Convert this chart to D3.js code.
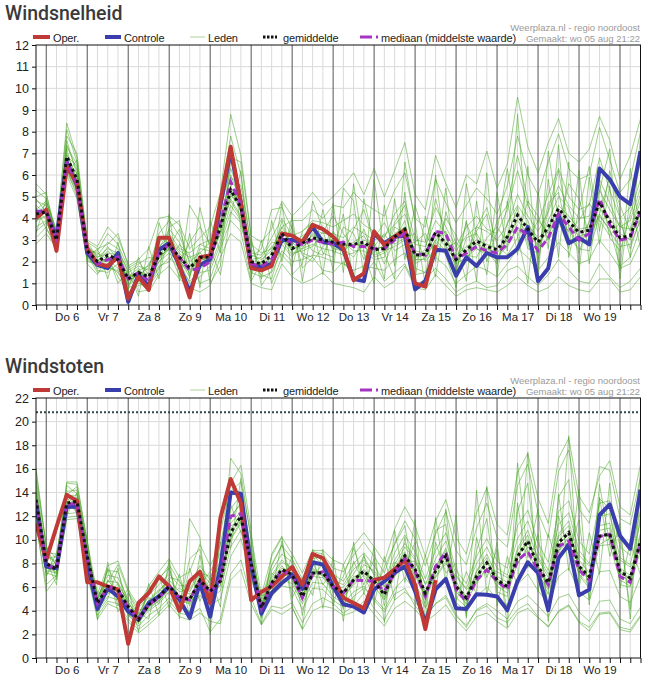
<!DOCTYPE html>
<html><head><meta charset="utf-8">
<script src="https://cdn.jsdelivr.net/npm/d3@7"></script>
<style>
body{margin:0;background:#fff}
svg{display:block}
text{font-family:"Liberation Sans",Arial,sans-serif}
</style>
</head><body>
<svg id="c" width="648" height="681"></svg>
<script>
// ---------- categories / ticks ----------
const dayLabels = ["Do 6","Vr 7","Za 8","Zo 9","Ma 10","Di 11","Wo 12","Do 13","Vr 14","Za 15","Zo 16","Ma 17","Di 18","Wo 19"];
const yTicksSnelheid = [0,1,2,3,4,5,6,7,8,9,10,11,12];
const yTicksStoten = [0,2,4,6,8,10,12,14,16,18,20,22];
const drempelStoten = 20.8;

// ---------- Windsnelheid (m/s), 6-hourly from wo 5 18:00 ----------
const operSnelheid = [4.0,4.4,2.5,6.4,5.6,2.6,1.9,1.8,2.2,0.3,
  1.3,0.7,3.1,3.1,1.8,0.35,2.2,2.3,4.8,7.3,
  4.7,1.7,1.6,1.8,3.3,3.2,2.9,3.7,3.5,3.15,
  2.6,1.15,1.46,3.4,2.77,3.15,3.46,1.0,0.85,2.77];
const controleSnelheid = [4.3,4.3,3.1,6.6,5.5,2.4,1.85,1.7,2.4,0.15,
  1.4,0.85,2.55,2.85,1.8,0.6,1.85,2.1,4.6,7.1,
  4.7,1.77,1.75,1.9,3.0,3.0,2.9,3.6,2.9,2.85,
  2.55,1.2,1.1,3.3,2.85,3.15,3.2,0.72,1.1,2.55,
  2.5,1.35,2.2,1.8,2.4,2.2,2.2,2.6,3.6,1.1,
  1.7,4.15,2.85,3.1,2.8,6.3,5.8,5.0,4.66,7.1];
const gemiddeldeSnelheid = [4.2,4.3,3.0,6.85,5.8,2.5,2.0,2.3,2.1,1.2,
  1.5,1.3,2.3,2.8,2.2,1.7,2.2,2.2,3.6,5.3,
  4.5,2.0,1.9,2.3,3.3,2.6,2.85,3.1,3.0,2.9,
  2.8,2.8,2.9,2.55,2.6,3.15,3.5,2.3,2.35,3.35,
  2.85,2.1,2.55,2.95,2.7,2.55,3.15,4.15,3.5,2.9,
  3.6,4.45,3.85,3.35,3.45,4.75,3.85,3.1,3.2,4.45];
const mediaanSnelheid = [4.3,4.3,3.1,6.6,5.6,2.5,1.9,2.1,2.2,1.2,
  1.5,1.1,2.4,2.8,2.2,1.6,1.7,2.0,3.8,5.7,
  4.6,1.9,1.8,2.1,3.2,2.8,2.8,3.0,2.9,2.8,
  2.9,2.7,2.7,2.6,2.6,3.0,3.3,2.4,2.3,3.4,
  3.3,2.1,2.4,2.7,2.5,2.4,2.8,3.6,3.2,2.5,
  3.1,4.2,3.6,3.0,3.3,4.9,3.7,3.0,3.1,4.3];
const ledenSnelheid = [
 [4.8,4.6,3.2,7.4,6.2,2.7,2.3,2.9,2.6,1.5, 1.8,1.6,2.9,3.3,2.6,2.4,2.8,2.6,4.4,6.3, 5.1,2.4,2.3,3.1,4.0,3.2,3.4,3.9,3.8,3.6, 3.9,4.2,3.7,3.4,3.1,4.2,4.8,3.0,2.9,4.5, 3.6,2.7,3.6,4.1,3.5,3.3,4.4,6.2,4.6,3.8, 5.1,6.3,5.0,4.4,4.6,6.8,5.3,4.0,4.5,6.6],
 [3.6,3.9,2.7,6.2,5.3,2.2,1.7,1.8,1.5,0.8, 1.0,0.9,1.7,2.2,1.7,1.1,1.5,1.6,2.8,4.3, 3.8,1.5,1.3,1.5,2.5,2.0,2.1,2.3,2.2,2.0, 1.9,1.6,1.8,1.7,1.6,2.1,2.4,1.4,1.5,2.2, 1.8,1.0,1.4,1.8,1.6,1.3,1.9,2.6,2.2,1.6, 2.2,2.9,2.4,1.9,2.1,3.0,2.4,1.7,1.9,2.9],
 [4.4,4.8,3.4,8.1,6.6,2.9,2.2,2.6,2.4,1.4, 1.2,1.9,2.6,3.5,2.9,1.4,2.8,3.0,4.8,7.8, 6.0,2.6,1.8,2.1,3.9,2.4,2.5,2.7,3.4,4.1, 3.3,2.6,3.5,2.2,2.4,3.8,4.6,2.0,2.6,4.9, 3.1,1.9,3.8,2.6,2.3,3.9,4.6,6.9,4.9,2.1, 4.4,6.2,3.6,2.4,3.9,5.6,3.1,2.5,4.2,5.8],
 [3.1,3.6,2.5,6.0,4.9,2.0,1.9,2.2,1.3,0.6, 0.9,1.0,1.8,2.0,2.8,2.3,1.0,1.2,2.6,3.9, 3.4,1.1,2.0,2.7,2.3,1.8,3.4,3.8,2.4,2.2, 3.6,3.3,2.1,3.1,3.8,2.8,3.1,3.3,2.0,2.6, 4.0,3.2,2.2,3.6,4.5,2.8,2.3,3.1,4.8,4.1, 3.0,3.6,5.6,4.9,3.2,4.2,5.9,4.6,3.4,4.8],
 [5.3,4.9,2.8,7.2,5.5,2.4,2.5,3.3,2.8,1.7, 2.0,1.4,2.2,2.6,1.9,2.9,3.6,2.8,3.2,5.0, 4.9,2.2,2.6,4.4,4.5,3.5,2.3,2.0,2.7,3.1, 2.4,3.5,4.4,2.9,1.9,3.0,3.9,1.7,1.5,2.9, 2.3,1.4,2.0,3.4,4.2,2.0,3.2,4.5,2.6,2.4, 4.7,5.2,3.1,2.6,2.5,4.1,3.5,1.8,2.2,3.6],
 [3.9,4.1,2.9,6.5,5.9,2.6,1.6,1.5,1.9,0.9, 1.6,1.2,2.0,2.4,2.0,1.0,1.3,1.8,3.0,4.6, 3.9,1.9,1.4,1.2,2.9,2.9,2.4,2.2,1.6,1.5, 2.0,1.3,1.4,2.0,1.1,1.5,1.9,0.9,1.2,1.7, 1.2,0.6,0.9,1.1,0.8,0.9,1.6,1.8,1.3,0.9, 1.4,2.1,1.6,1.1,1.0,1.9,1.3,0.8,1.1,1.7],
 [4.6,4.2,3.1,6.9,6.4,2.8,2.1,2.0,2.2,1.1, 1.4,1.7,3.3,3.9,3.2,2.0,2.4,2.9,4.1,5.9, 5.5,2.8,2.4,2.6,3.6,3.9,3.9,4.4,4.0,4.6, 4.5,5.2,4.7,4.4,4.1,5.3,6.1,4.0,3.6,5.8, 4.7,3.8,4.6,5.4,4.9,4.2,5.5,7.8,6.0,5.1, 6.6,7.9,6.3,5.8,6.0,8.2,6.7,5.2,5.8,8.0],
 [4.0,4.4,3.3,6.7,5.6,2.3,2.0,2.5,2.0,1.3, 1.7,1.1,2.5,3.0,2.4,1.8,2.0,2.3,3.4,5.5, 4.3,1.8,1.9,2.0,3.1,2.5,2.9,3.2,3.1,2.6, 2.5,2.9,3.2,2.4,2.8,3.3,3.6,2.5,2.4,3.4, 2.9,2.3,2.7,3.0,2.8,2.6,3.1,4.0,3.7,3.1, 3.5,4.6,4.1,3.5,3.6,4.8,4.0,3.3,3.0,4.4],
 [2.8,3.3,2.6,7.8,7.0,3.0,2.7,3.6,3.1,1.9, 0.6,0.7,3.8,2.5,1.3,4.6,3.8,1.0,1.8,6.8, 6.6,3.1,0.9,1.6,4.7,1.4,1.9,4.8,3.5,1.6, 5.4,4.8,1.3,5.8,2.4,1.2,6.6,3.8,0.9,6.0, 2.3,0.8,5.6,3.2,1.4,5.2,2.5,8.8,2.9,1.2, 7.1,3.9,2.6,6.2,1.9,5.3,7.2,1.6,6.3,3.4],
 [4.3,4.0,2.4,6.3,5.0,2.1,1.8,1.9,2.5,1.6, 1.9,2.2,2.1,2.7,3.5,1.9,1.7,2.0,3.9,4.8, 4.0,2.1,2.2,2.9,2.8,2.2,3.1,2.5,2.3,3.4, 2.6,2.2,3.0,2.7,3.3,2.5,2.8,2.9,3.3,2.4, 2.6,2.9,2.3,2.2,3.1,3.6,2.9,3.5,3.0,3.9, 3.3,4.0,3.4,3.9,4.7,3.9,3.2,3.8,2.6,4.0],
 [5.0,5.2,3.0,7.0,5.8,2.5,2.4,2.1,1.7,0.9, 1.3,1.5,2.4,2.9,2.1,1.3,2.6,2.5,3.7,5.2, 4.7,1.7,1.6,2.4,3.4,2.7,2.6,3.3,2.9,2.7, 2.9,2.5,2.5,2.1,2.2,3.6,3.3,1.9,2.2,3.0, 3.4,1.6,3.1,3.3,2.5,1.9,3.8,4.6,3.9,2.6, 3.9,5.0,4.5,3.0,3.8,5.3,4.4,3.6,3.5,5.1],
 [3.4,3.8,2.9,6.4,6.1,2.6,2.2,2.4,2.3,1.0, 1.5,1.3,2.2,2.6,2.3,1.6,2.1,2.1,3.5,5.1, 4.4,2.0,1.7,2.2,3.2,2.6,2.7,3.0,3.0,3.0, 2.7,2.8,2.8,2.6,2.7,3.0,3.4,2.2,2.3,3.2, 2.7,2.0,2.5,2.8,2.6,2.4,3.0,3.9,3.3,2.8, 3.4,4.2,3.7,3.2,3.3,4.5,3.7,3.0,3.1,4.3],
 [5.6,5.1,3.3,8.4,6.8,2.9,2.6,2.8,3.3,1.8, 2.1,2.6,4.0,4.1,3.7,2.6,3.1,3.6,5.2,8.8, 6.9,3.2,2.9,3.5,4.8,4.1,4.6,5.2,4.6,5.0, 5.5,6.1,5.1,6.3,5.0,6.2,7.5,5.1,4.4,6.9, 5.6,4.5,6.0,5.6,7.1,5.4,6.5,9.6,7.3,6.1, 7.5,8.6,7.0,6.6,7.2,8.7,7.6,5.8,6.9,8.6],
 [3.8,4.5,2.6,6.1,5.2,2.3,1.5,1.7,1.6,0.5, 1.1,0.6,1.4,1.8,1.2,0.8,0.6,0.9,2.2,3.3, 2.9,1.0,0.8,0.7,1.9,1.3,1.0,1.2,1.5,1.0, 0.9,0.8,0.6,1.3,0.8,1.1,1.8,0.8,0.7,1.4, 0.9,0.4,0.7,0.8,0.7,0.6,0.9,1.3,0.9,0.6, 0.8,1.3,0.9,0.7,0.6,1.2,1.2,0.6,0.7,1.3],
 [4.9,4.3,3.1,7.6,6.0,2.7,2.0,2.7,2.1,1.2, 1.6,1.8,2.7,3.1,2.5,2.2,2.4,2.0,3.8,6.0, 4.8,2.3,2.1,2.5,3.6,2.8,3.2,3.5,3.3,3.3, 3.1,3.6,3.3,3.0,3.2,3.7,4.2,2.8,2.7,3.9, 3.3,2.5,3.2,3.6,3.4,3.0,3.7,5.1,4.1,3.4, 4.3,5.5,4.6,4.0,4.1,5.8,4.7,3.6,3.9,5.4],
 [4.1,4.7,3.5,6.6,5.4,2.4,1.8,2.2,2.1,1.4, 1.3,1.0,2.0,2.6,2.0,1.5,1.9,2.1,3.3,4.9, 4.1,1.8,2.0,1.9,3.0,2.3,2.6,2.8,2.6,2.5, 2.3,2.4,2.7,2.3,2.5,2.7,3.0,2.1,2.1,3.0, 2.5,1.9,2.2,2.6,2.4,2.2,2.7,3.6,3.1,2.5, 3.1,3.9,3.4,2.9,3.0,4.2,3.4,2.7,2.8,3.9],
 [4.5,3.5,2.9,7.3,6.5,2.2,2.6,1.2,2.9,0.7, 2.2,0.9,1.5,4.2,1.1,3.3,0.8,3.9,2.4,7.1, 3.5,3.0,1.2,3.9,2.0,4.1,1.1,3.7,1.4,4.7, 1.5,5.6,2.4,1.0,4.6,1.8,5.2,1.2,4.1,2.0, 5.4,1.5,3.9,1.1,6.1,1.3,4.8,2.3,6.4,1.7, 5.8,2.2,6.6,1.5,5.9,2.8,5.5,1.2,5.0,2.6],
 [3.3,4.9,3.2,6.0,6.7,1.9,1.4,2.3,1.0,1.6, 0.4,2.7,1.2,3.6,3.9,1.2,4.5,2.6,1.4,4.1, 6.2,1.3,3.0,1.0,2.2,3.7,1.7,2.2,4.4,2.4, 4.2,1.0,4.9,2.8,1.2,4.9,2.1,4.6,3.0,1.3, 4.3,2.8,1.1,4.8,2.0,3.4,6.3,3.2,1.0,5.2, 2.6,7.4,2.2,4.4,6.4,3.4,6.2,4.1,2.2,7.8]
];

// ---------- Windstoten (m/s) ----------
const operStoten = [11.4,8.3,11.1,13.8,13.3,6.4,6.4,6.05,5.8,1.2,
  4.65,5.5,6.9,6.05,4.0,6.5,7.3,4.65,11.85,15.15,
  13.1,4.9,5.6,6.05,6.9,7.7,6.2,8.8,8.45,6.9,
  5.1,4.65,4.2,6.6,6.8,7.5,8.3,6.2,2.45,6.6];
const controleStoten = [13.0,7.75,7.6,12.8,12.8,8.0,4.15,5.9,5.2,3.95,
  3.25,4.65,5.2,6.05,4.95,3.4,6.35,3.5,7.75,14.0,
  13.9,7.75,3.75,5.5,6.35,7.05,5.85,8.1,7.9,6.05,
  4.55,4.35,3.85,5.8,6.5,7.2,7.75,5.65,2.95,5.8,
  6.7,4.2,4.15,5.4,5.35,5.2,4.05,6.5,8.1,7.2,
  4.05,8.45,9.6,5.3,5.8,12.1,13.0,10.35,9.25,14.25];
const gemiddeldeStoten = [13.4,8.0,7.5,13.1,13.25,8.6,4.65,6.05,5.8,4.35,
  3.25,4.5,5.2,6.05,5.2,4.95,6.6,5.65,6.5,10.6,
  12.0,8.0,4.25,6.35,7.5,7.05,5.2,7.2,7.2,6.05,
  5.5,6.6,7.35,6.5,5.35,7.35,8.65,7.5,5.5,7.35,
  8.65,6.05,5.1,6.9,8.05,6.6,6.05,8.6,9.9,7.75,
  6.35,9.75,10.6,7.75,6.9,10.3,10.5,7.35,6.75,9.9];
const mediaanStoten = [13.3,7.9,7.5,13.0,13.1,8.5,4.6,6.0,5.8,4.3,
  3.3,4.5,5.1,6.0,5.1,4.9,6.5,5.5,6.7,12.0,
  12.2,7.9,4.2,6.3,7.4,7.0,5.1,7.1,7.3,6.05,
  5.5,6.6,6.55,6.5,5.65,7.2,8.45,7.35,5.2,7.75,
  8.95,5.8,4.8,6.6,7.45,6.5,5.8,8.25,9.0,7.45,
  6.2,9.45,9.9,7.45,6.6,10.3,10.45,6.9,6.4,9.75];
const ledenStoten = [
 [14.6,8.6,8.2,14.1,14.2,9.4,5.1,7.0,6.8,5.0, 3.7,5.3,6.2,7.1,6.1,6.2,7.8,6.6,7.9,12.6, 13.8,9.2,4.8,7.4,8.8,8.1,6.2,8.4,8.6,7.1, 6.5,8.0,8.9,7.8,6.4,8.9,10.4,9.0,6.7,9.1, 10.6,7.4,6.3,8.6,10.1,8.2,7.6,11.2,12.5,9.7, 8.1,12.4,13.3,9.9,8.8,13.1,13.3,9.4,8.7,12.5],
 [12.1,7.2,6.9,12.2,12.3,7.8,4.1,5.2,4.9,3.7, 2.7,3.6,4.2,5.1,4.3,3.9,5.3,4.5,5.0,8.6, 10.1,6.9,3.7,5.2,6.1,5.9,4.1,5.9,5.8,4.9, 4.3,5.2,5.9,5.1,4.1,5.8,6.8,5.8,4.3,5.6, 6.6,4.7,3.9,5.2,6.0,5.0,4.5,6.2,7.1,5.7, 4.6,6.9,7.6,5.6,4.9,7.3,7.4,5.2,4.7,6.9],
 [15.8,9.3,7.8,14.6,13.9,9.7,4.4,7.6,6.2,4.8, 3.1,5.9,6.8,7.6,4.6,8.4,9.2,4.6,7.3,16.9, 15.6,9.9,4.1,7.9,9.6,6.5,4.9,8.8,7.8,5.5, 6.9,9.3,6.8,5.4,7.7,9.6,11.2,6.3,4.6,10.8, 11.3,5.1,4.3,9.1,11.8,5.6,5.2,12.4,14.8,7.3, 5.4,13.6,15.1,7.0,5.9,13.5,12.6,6.2,6.0,12.1],
 [11.3,6.2,7.0,11.9,12.0,7.4,3.6,4.8,4.6,3.3, 2.4,3.1,3.9,4.8,3.8,3.6,4.2,2.2,3.3,7.1, 8.3,5.1,2.9,4.4,4.2,4.7,3.0,4.6,5.1,4.6, 3.8,4.4,5.5,4.2,3.2,4.9,5.6,4.8,3.5,4.6, 5.3,3.7,2.6,4.1,4.6,4.0,3.3,4.8,5.3,4.4, 3.5,5.1,5.4,3.9,3.1,4.8,4.9,3.3,2.9,4.3],
 [13.9,8.4,8.6,13.5,13.0,8.2,5.3,6.4,7.9,5.6, 4.1,4.2,5.6,6.8,6.6,4.4,6.2,7.3,8.9,11.2, 11.5,7.6,4.4,6.8,8.1,7.6,5.9,7.6,7.0,5.8, 6.0,7.1,8.6,7.0,5.0,7.9,9.4,8.3,5.4,7.6, 9.3,6.5,4.9,7.4,8.8,6.9,6.4,9.3,10.8,8.4, 6.8,10.5,11.6,8.3,7.2,11.2,11.4,7.6,7.0,10.6],
 [12.7,7.6,7.3,12.7,12.6,8.0,4.4,5.6,5.3,3.9, 3.0,4.0,4.6,5.6,4.8,4.6,5.8,5.0,5.7,9.4, 10.8,7.3,3.5,5.7,6.6,6.3,4.6,6.4,6.3,5.2, 4.6,5.6,6.1,4.9,3.9,5.4,5.9,4.4,3.4,4.6, 5.1,3.5,2.8,4.0,4.4,3.4,3.0,4.1,4.6,3.5, 2.6,4.0,4.5,3.1,2.6,3.8,3.9,2.6,2.4,3.6],
 [13.1,8.9,8.8,13.8,14.5,9.2,4.9,7.4,7.3,4.6, 3.6,5.7,6.6,7.9,6.4,5.6,7.2,6.9,8.1,12.0, 13.0,8.8,5.0,7.8,9.5,8.4,6.7,9.0,8.8,7.6, 7.3,8.7,9.8,8.6,7.2,9.7,11.6,10.1,7.8,10.5, 12.4,9.1,7.9,11.0,13.1,10.2,9.4,14.6,16.4,12.3, 10.2,15.8,17.6,12.6,11.4,16.2,15.9,11.8,11.3,15.3],
 [13.3,7.9,7.6,13.0,13.4,8.7,4.7,6.1,5.9,4.4, 3.3,4.6,5.1,6.0,5.3,5.0,6.7,5.7,6.4,10.4, 11.9,8.1,4.3,6.3,7.4,7.0,5.3,7.1,7.3,6.1, 5.4,6.7,7.4,6.4,5.4,7.3,8.7,7.6,5.6,7.4, 8.5,6.2,5.2,6.8,8.1,6.7,6.1,8.5,9.8,7.8, 6.4,9.6,10.5,7.9,6.8,10.2,10.6,7.4,6.6,9.8],
 [15.2,9.6,6.6,14.8,14.7,9.9,3.2,8.1,4.4,5.9, 2.2,6.3,3.6,8.3,3.3,11.8,10.2,2.0,10.6,14.8, 16.3,10.8,2.8,8.8,10.3,4.3,2.5,9.2,4.2,8.6, 3.1,9.8,5.4,9.4,3.0,10.8,6.4,11.7,2.9,11.9, 6.3,12.1,3.4,14.2,5.3,9.8,2.6,16.5,8.5,12.6, 3.1,13.9,7.4,14.3,4.5,13.6,8.6,11.4,3.3,14.2],
 [12.5,7.0,8.9,12.4,13.6,8.9,5.5,5.4,6.3,3.6, 2.9,4.9,5.8,5.4,5.9,5.4,6.0,6.2,6.9,10.0, 11.4,7.4,4.6,6.0,7.1,7.7,5.6,6.8,8.0,6.8, 5.1,6.3,7.9,7.4,6.1,6.9,8.1,8.2,6.3,6.8, 8.0,6.9,5.8,6.3,7.6,7.3,6.8,8.0,9.4,8.6, 7.1,9.1,10.2,8.7,7.8,9.6,10.1,8.3,7.7,9.2],
 [14.2,8.2,7.1,13.3,12.7,8.4,4.5,6.6,5.5,4.2, 3.4,4.1,4.9,6.4,4.9,4.7,7.1,5.4,6.1,11.4, 12.4,7.8,4.0,6.6,7.8,6.8,5.0,7.5,6.9,5.9, 5.7,6.9,7.1,6.7,5.6,7.6,9.0,7.2,5.2,7.8, 9.1,5.8,4.8,7.3,8.5,6.4,5.8,9.1,10.4,7.4, 6.0,10.3,11.2,7.5,6.6,10.8,11.0,7.1,6.4,10.4],
 [12.9,8.1,7.7,12.9,13.1,8.5,4.8,5.9,5.7,4.3, 3.2,4.4,5.4,6.2,5.1,5.2,6.5,5.9,6.7,10.9, 12.2,8.3,4.2,6.4,7.6,7.2,5.1,7.3,7.1,6.0, 5.6,6.5,7.5,6.6,5.2,7.4,8.8,7.4,5.4,7.2, 8.8,6.1,5.0,7.0,8.2,6.5,5.9,8.7,10.0,7.6, 6.2,9.9,10.8,7.7,6.7,10.4,10.3,7.2,6.8,10.0],
 [16.1,9.4,8.4,14.9,14.9,9.8,5.4,7.8,8.2,5.8, 4.4,6.1,7.3,8.4,6.8,7.3,9.6,7.8,9.6,14.1, 14.9,10.3,5.3,8.6,10.2,8.8,7.2,9.1,9.1,8.3, 7.9,9.5,10.6,9.4,8.1,10.9,12.8,11.2,8.6,11.6, 13.4,10.2,8.8,12.3,14.4,11.3,10.4,15.7,17.3,13.5, 11.4,16.9,18.6,13.7,12.3,15.4,16.7,12.8,12.1,16.4],
 [11.6,5.6,6.8,11.7,11.8,7.1,3.3,4.6,4.2,3.1, 2.1,2.8,3.6,4.5,3.5,3.2,3.8,3.1,2.9,6.6, 7.5,4.6,2.8,4.1,3.7,4.3,2.4,4.0,4.4,4.2, 3.6,3.9,4.8,3.7,2.7,4.2,4.8,4.1,3.1,3.7, 4.5,3.2,2.3,3.5,3.8,3.1,2.5,3.8,4.2,3.4, 2.7,3.9,4.4,3.0,2.3,3.7,3.8,2.4,2.2,3.5],
 [14.0,8.8,7.9,13.7,13.8,9.0,5.0,6.5,6.4,4.7, 3.5,4.8,5.7,6.6,5.6,5.8,7.4,6.3,7.2,11.8, 13.2,8.6,4.6,7.0,8.3,7.6,5.7,7.8,8.1,6.6, 6.2,7.5,8.3,7.2,6.0,8.3,9.7,8.5,6.2,8.4, 9.9,7.0,5.9,8.0,9.4,7.6,7.0,10.1,11.6,9.0, 7.4,11.3,12.3,9.1,8.0,12.0,12.2,8.5,7.9,11.6],
 [12.3,7.4,7.2,12.6,12.9,8.3,4.3,5.8,5.6,4.1, 3.0,4.3,4.8,5.8,5.0,4.8,6.3,5.5,6.2,10.1, 11.6,7.7,3.9,6.1,7.2,6.7,4.9,6.9,6.8,5.7, 5.2,6.2,7.0,6.1,4.9,6.9,8.2,7.0,5.1,6.9, 8.2,5.6,4.6,6.5,7.6,6.1,5.5,8.0,9.1,7.1, 5.8,9.1,9.8,7.1,6.2,9.5,9.6,6.6,6.1,9.1],
 [13.6,6.9,8.4,12.0,14.0,7.6,4.9,7.5,3.9,5.5, 3.8,3.3,7.0,4.2,7.1,3.6,8.7,3.9,9.8,9.3, 15.2,6.4,5.3,5.4,9.9,5.1,6.8,5.3,9.2,4.4, 7.9,4.6,8.8,4.5,8.6,4.9,10.2,5.4,8.7,5.3, 12.6,4.8,7.3,5.4,14.5,4.4,8.6,6.1,17.4,5.6, 10.5,7.6,18.8,5.9,10.6,7.1,14.8,5.9,9.8,7.0],
 [15.0,8.3,6.2,13.6,12.2,10.1,3.9,5.0,7.6,3.5, 4.3,5.1,4.6,7.7,4.0,7.6,4.8,6.8,4.3,13.0, 10.6,9.4,3.4,7.2,6.4,8.6,3.6,8.1,6.2,7.4, 4.1,8.2,6.2,8.4,4.4,8.1,7.6,9.8,4.2,9.8, 7.2,8.0,3.6,10.2,6.8,9.2,3.8,13.1,7.6,10.5, 4.2,12.0,8.9,11.7,5.0,14.7,9.6,10.6,4.1,16.0]
];

// ---------- drawing ----------
const svg = d3.select("#c");
const W0 = 36, W1 = 640.5, T = 45, B = 305;
const x = d3.scaleLinear().domain([0, 59]).range([W0, W1]);
const C = {oper:"#bf3936", ctrl:"#3a3eac", leden:"#46a323", mean:"#111", med:"#a534c4", grid:"#dadada", day:"#555"};

function drawChart(cfg) {
  const g = svg.append("g").attr("transform", `translate(0,${cfg.dy})`);
  const y = d3.scaleLinear().domain([0, cfg.yMax]).range([B, T]);

  g.append("text").attr("x", 5).attr("y", 20).attr("fill", "#3a3a3a")
    .style("font-family", "Roboto, sans-serif").style("font-weight", 500).style("font-size", "19.5px")
    .text(cfg.title);

  // grid
  const idx = d3.range(0, 60);
  g.append("g").selectAll("line").data(idx.filter(i => (i - 1) % 4 !== 0 && i > 0)).join("line")
    .attr("x1", d => x(d)).attr("x2", d => x(d)).attr("y1", T).attr("y2", B)
    .attr("stroke", C.grid).attr("stroke-width", 1);
  g.append("g").selectAll("line").data(cfg.ticks.filter(v => v > 0 && v < cfg.yMax)).join("line")
    .attr("x1", W0).attr("x2", W1).attr("y1", d => y(d)).attr("y2", d => y(d))
    .attr("stroke", C.grid).attr("stroke-width", 1);
  g.append("g").selectAll("line").data(idx.filter(i => (i - 1) % 4 === 0)).join("line")
    .attr("x1", d => x(d)).attr("x2", d => x(d)).attr("y1", T).attr("y2", B)
    .attr("stroke", C.day).attr("stroke-width", 1);

  if (cfg.threshold != null) {
    g.append("line").attr("x1", W0).attr("x2", W1)
      .attr("y1", y(cfg.threshold)).attr("y2", y(cfg.threshold))
      .attr("stroke", "#2e4a4a").attr("stroke-width", 2).attr("stroke-dasharray", "2,2");
  }

  const clipId = "clip" + cfg.dy;
  g.append("clipPath").attr("id", clipId).append("rect")
    .attr("x", W0).attr("y", T - 2).attr("width", W1 - W0).attr("height", B - T + 4);
  const lines = g.append("g").attr("clip-path", `url(#${clipId})`);
  const line = d3.line().x((d, i) => x(i)).y(d => y(d));

  lines.append("g").selectAll("path").data(cfg.leden).join("path")
    .attr("d", line).attr("fill", "none").attr("stroke", C.leden)
    .attr("stroke-opacity", 0.52).attr("stroke-width", 1);
  lines.append("path").attr("d", line(cfg.ctrl)).attr("fill", "none")
    .attr("stroke", C.ctrl).attr("stroke-width", 4).attr("stroke-linejoin", "round");
  lines.append("path").attr("d", line(cfg.oper)).attr("fill", "none")
    .attr("stroke", C.oper).attr("stroke-width", 4).attr("stroke-linejoin", "round");
  lines.append("path").attr("d", line(cfg.med)).attr("fill", "none")
    .attr("stroke", C.med).attr("stroke-width", 3).attr("stroke-dasharray", "7,4");
  lines.append("path").attr("d", line(cfg.mean)).attr("fill", "none")
    .attr("stroke", C.mean).attr("stroke-width", 3).attr("stroke-dasharray", "3,3");

  // frame
  g.append("rect").attr("x", W0).attr("y", T).attr("width", W1 - W0).attr("height", B - T)
    .attr("fill", "none").attr("stroke", "#111").attr("stroke-width", 1);

  // axes
  const ax = g.append("g").attr("transform", `translate(${W0},0)`)
    .call(d3.axisLeft(y).tickValues(cfg.ticks).tickSize(4).tickPadding(3));
  ax.select(".domain").remove();
  ax.selectAll("text").attr("fill", "#222").style("font-size", "12.5px");
  ax.selectAll("line").attr("stroke", "#111");

  const bx = g.append("g").attr("transform", `translate(0,${B})`)
    .call(d3.axisBottom(x).tickValues(idx).tickSize(5).tickPadding(3)
      .tickFormat(i => ((i - 3) % 4 === 0 && (i - 3) / 4 < dayLabels.length) ? dayLabels[(i - 3) / 4] : ""));
  bx.select(".domain").remove();
  bx.selectAll("text").attr("fill", "#222").style("font-size", "11.5px");
  bx.selectAll("line").attr("stroke", "#111");

  // legend
  const ly = 37;
  const lg = g.append("g").style("font-size", "11px").style("letter-spacing", "-0.15px").attr("fill", "#222");
  lg.append("line").attr("x1", 33).attr("x2", 50).attr("y1", ly).attr("y2", ly).attr("stroke", C.oper).attr("stroke-width", 4);
  lg.append("text").attr("x", 53).attr("y", ly + 4.5).text("Oper.");
  lg.append("line").attr("x1", 105).attr("x2", 121).attr("y1", ly).attr("y2", ly).attr("stroke", C.ctrl).attr("stroke-width", 4);
  lg.append("text").attr("x", 124).attr("y", ly + 4.5).text("Controle");
  lg.append("line").attr("x1", 190).attr("x2", 205).attr("y1", ly).attr("y2", ly).attr("stroke", "#a8d49a").attr("stroke-width", 1);
  lg.append("text").attr("x", 208).attr("y", ly + 4.5).text("Leden");
  lg.append("line").attr("x1", 263).attr("x2", 277).attr("y1", ly).attr("y2", ly).attr("stroke", C.mean).attr("stroke-width", 3).attr("stroke-dasharray", "2.5,1.5");
  lg.append("text").attr("x", 283).attr("y", ly + 4.5).text("gemiddelde");
  lg.append("line").attr("x1", 360).attr("x2", 379).attr("y1", ly).attr("y2", ly).attr("stroke", C.med).attr("stroke-width", 3).attr("stroke-dasharray", "12,4,2,10");
  lg.append("text").attr("x", 381).attr("y", ly + 4.5).text("mediaan (middelste waarde)");

  const src = g.append("g").attr("text-anchor", "end").attr("fill", "#9a9a9a").style("font-size", "9.5px");
  src.append("text").attr("x", 640).attr("y", 31).text("Weerplaza.nl - regio noordoost");
  src.append("text").attr("x", 640).attr("y", 42).text("Gemaakt: wo 05 aug 21:22");
}

drawChart({dy: 0, title: "Windsnelheid", yMax: 12, ticks: yTicksSnelheid,
  oper: operSnelheid, ctrl: controleSnelheid, mean: gemiddeldeSnelheid, med: mediaanSnelheid, leden: ledenSnelheid});
drawChart({dy: 353, title: "Windstoten", yMax: 22, ticks: yTicksStoten, threshold: drempelStoten,
  oper: operStoten, ctrl: controleStoten, mean: gemiddeldeStoten, med: mediaanStoten, leden: ledenStoten});
</script>
</body></html>
